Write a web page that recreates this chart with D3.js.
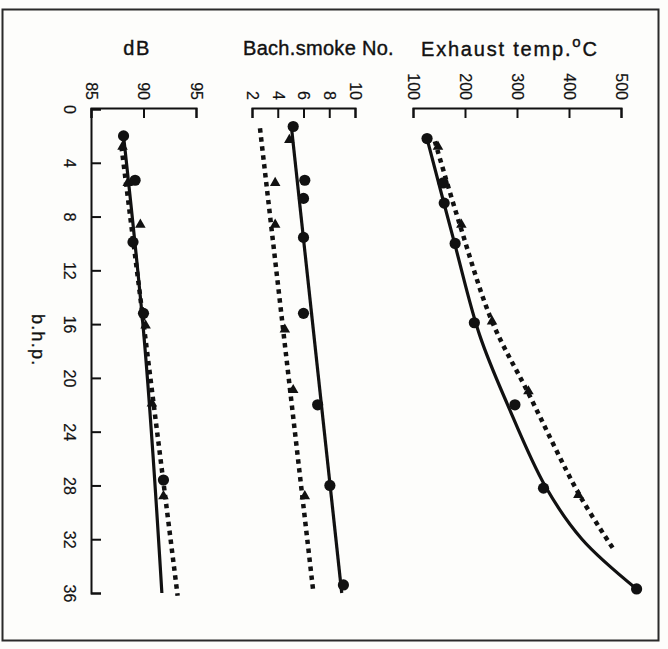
<!DOCTYPE html>
<html>
<head>
<meta charset="utf-8">
<script src="https://cdn.jsdelivr.net/npm/d3@7"></script>
<style>
  html, body { margin: 0; padding: 0; background: #fdfdfb; }
  svg { display: block; }
  text { font-family: "Liberation Sans", Arial, Helvetica, sans-serif; fill: #111; }
</style>
</head>
<body>
<svg id="chart" width="668" height="649"></svg>
<script>
// b.h.p. runs down the page; each panel's quantity runs to the right.
const bhpTicks   = [0, 4, 8, 12, 16, 20, 24, 28, 32, 36];
const dbTicks    = [85, 90, 95];
const smokeTicks = [2, 4, 6, 8, 10];
const tempTicks  = [100, 200, 300, 400, 500];

// Noise level, dB  ([b.h.p., value])
const dbCircles   = [[2, 88.1], [5.3, 89.2], [9.9, 89.0], [15.2, 90.0], [27.6, 91.9]];
const dbTriangles = [[2.8, 88.0], [5.5, 88.5], [8.6, 89.7], [16.1, 90.2], [21.9, 90.8], [28.8, 91.9]];
const dbSolidFit  = [[2, 88.1], [16.5, 90.0], [36, 91.75]];
const dbDashFit   = [[2.8, 87.9], [36.2, 93.25]];

// Bacharach smoke number
const smokeCircles   = [[1.3, 5.2], [5.3, 6.1], [6.65, 6.0], [9.55, 6.0], [15.2, 6.0], [22, 7.1], [28, 8.05], [35.4, 9.1]];
const smokeTriangles = [[2.3, 4.9], [5.5, 3.8], [8.6, 3.8], [16.4, 4.55], [20.9, 5.2], [28.8, 6.1]];
const smokeSolidFit  = [[1.5, 5.08], [36, 8.97]];
const smokeDashFit   = [[1.44, 2.62], [35.9, 6.76]];

// Exhaust temperature, °C
const tempCircles   = [[2.2, 127], [5.5, 158], [7.0, 160], [10, 181], [15.9, 218], [22, 296], [28.2, 351], [35.7, 530]];
const tempTriangles = [[2.8, 148], [5.5, 161], [8.6, 193], [15.8, 252], [21, 322], [28.7, 418]];
const tempSolidFit  = [[2.2, 127], [10, 180], [16.8, 228], [22, 282], [28.1, 355], [32, 425], [35.7, 530]];
const tempDashFit   = [[2.4, 142], [8.6, 190], [15.8, 252], [21, 320], [28.7, 420], [32.7, 485]];

const svg = d3.select("#chart");

// outer frame
svg.append("rect")
  .attr("x", 2.5).attr("y", 9.5).attr("width", 656).attr("height", 631)
  .attr("fill", "none").attr("stroke", "#2a2a2a").attr("stroke-width", 2);

const axisTopY = 108;
const y = d3.scaleLinear().domain([0, 36]).range([109, 593]);

const panels = [
  { ticks: dbTicks, range: [91, 196], circles: dbCircles, tris: dbTriangles,
    solid: dbSolidFit, dash: dbDashFit, curve: d3.curveMonotoneY },
  { ticks: smokeTicks, range: [252, 355], circles: smokeCircles, tris: smokeTriangles,
    solid: smokeSolidFit, dash: smokeDashFit, curve: d3.curveLinear },
  { ticks: tempTicks, range: [413, 621], circles: tempCircles, tris: tempTriangles,
    solid: tempSolidFit, dash: tempDashFit, curve: d3.curveCatmullRom.alpha(0.5) }
];

function styleAxis(g) {
  g.attr("font-family", null).attr("font-size", null);
  g.select(".domain").attr("stroke", "#111").attr("stroke-width", 2).attr("fill", "none");
  g.selectAll(".tick line").attr("stroke", "#111").attr("stroke-width", 2);
  g.selectAll(".tick text").attr("font-size", 16).attr("fill", "#111")
    .attr("stroke", "#111").attr("stroke-width", 0.2);
}

// vertical b.h.p. axis
const gy = svg.append("g").attr("transform", `translate(91,0)`)
  .call(d3.axisLeft(y).tickValues(bhpTicks).tickSizeInner(-10).tickSizeOuter(-10).tickPadding(0));
styleAxis(gy);
gy.selectAll(".tick text")
  .attr("x", null).attr("dy", "0.35em")
  .attr("text-anchor", "middle")
  .attr("transform", "translate(-21,0) rotate(90)");

svg.append("text")
  .attr("transform", `translate(32,${y(17.2)}) rotate(90)`)
  .attr("text-anchor", "middle")
  .attr("font-size", 18).attr("letter-spacing", 1.2)
  .attr("stroke", "#111").attr("stroke-width", 0.3)
  .text("b.h.p.");

panels.forEach(p => {
  const x = d3.scaleLinear().domain([p.ticks[0], p.ticks[p.ticks.length - 1]]).range(p.range);

  const g = svg.append("g").attr("transform", `translate(0,${axisTopY})`)
    .call(d3.axisTop(x).tickValues(p.ticks).tickSizeInner(-10).tickSizeOuter(-10).tickPadding(8));
  styleAxis(g);
  g.selectAll(".tick text")
    .attr("y", null).attr("x", -8).attr("dy", "0.35em")
    .attr("text-anchor", "end")
    .attr("transform", "rotate(90)");

  const line = d3.line().x(d => x(d[1])).y(d => y(d[0])).curve(p.curve);

  svg.append("path").datum(p.dash)
    .attr("d", line).attr("fill", "none")
    .attr("stroke", "#111").attr("stroke-width", 4.5)
    .attr("stroke-dasharray", "4.5,4.5");

  svg.append("path").datum(p.solid)
    .attr("d", line).attr("fill", "none")
    .attr("stroke", "#111").attr("stroke-width", 3.2);

  svg.append("g").selectAll("path").data(p.tris).join("path")
    .attr("d", d3.symbol(d3.symbolTriangle, 48))
    .attr("transform", d => `translate(${x(d[1])},${y(d[0])})`)
    .attr("fill", "#111");

  svg.append("g").selectAll("circle").data(p.circles).join("circle")
    .attr("cx", d => x(d[1])).attr("cy", d => y(d[0])).attr("r", 5.6)
    .attr("fill", "#111");
});

// panel titles
const titleStyle = sel => sel.attr("font-size", 20).attr("stroke", "#111").attr("stroke-width", 0.4);
svg.append("text").attr("x", 137).attr("y", 55).attr("text-anchor", "middle").call(titleStyle)
  .attr("letter-spacing", 1.5).text("dB");
svg.append("text").attr("x", 243).attr("y", 55).call(titleStyle).attr("letter-spacing", 0.3).text("Bach.smoke No.");
const tt = svg.append("text").attr("x", 421).attr("y", 56).call(titleStyle).attr("letter-spacing", 1.8);
tt.append("tspan").text("Exhaust temp.");
tt.append("tspan").attr("dy", -9).attr("font-size", 15).text("o");
tt.append("tspan").attr("dy", 9).text("C");
</script>
</body>
</html>
